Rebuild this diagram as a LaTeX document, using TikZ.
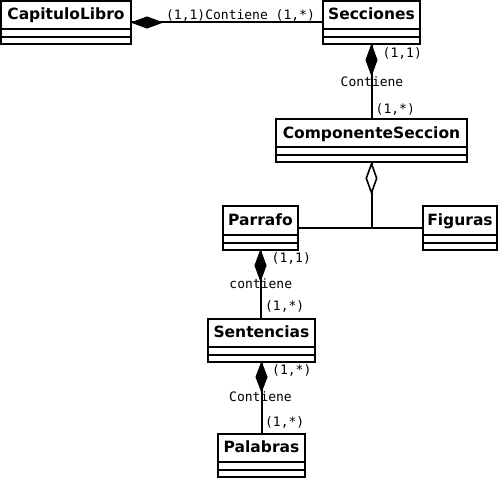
\documentclass[tikz,border=0pt]{standalone}
\usepackage{fontspec}
\newfontfamily\clsfont{DejaVu Sans}
\newfontfamily\lblfont{DejaVu Sans Mono}
\begin{document}
\begin{tikzpicture}[x=1pt,y=-1pt,
  cls/.style={draw, line width=2pt, minimum width=#1, minimum height=43pt,
    anchor=north west, inner sep=0pt},
  clsname/.style={anchor=base, inner sep=0pt, font=\clsfont\bfseries\fontsize{15.5}{18}\selectfont},
  lbl/.style={inner sep=0pt, anchor=center, font=\lblfont\fontsize{13}{15}\selectfont},
  conn/.style={line width=2pt},
  fdia/.style={fill=black, draw=black, line width=1pt, line join=miter},
  odia/.style={fill=white, draw=black, line width=1.6pt, line join=miter}]
\useasboundingbox (0,0) rectangle (500,478);

% class boxes
\node[cls=130pt] (cap)  at (0,0) {};
\node[cls=97pt]  (sec)  at (322,0) {};
\node[cls=191pt] (comp) at (275,118) {};
\node[cls=75pt]  (par)  at (222,205.5) {};
\node[cls=74pt]  (fig)  at (422,205.5) {};
\node[cls=107pt] (sent) at (207,317.5) {};
\node[cls=87pt]  (pal)  at (217,432.5) {};

% compartments
\foreach \b in {cap,sec,comp,par,fig,sent,pal}{
  \draw[line width=2pt] ([yshift=-29.5pt]\b.north west) -- ([yshift=-29.5pt]\b.north east);
  \draw[line width=2pt] ([yshift=-37pt]\b.north west) -- ([yshift=-37pt]\b.north east);
}

% class names
\path (cap.north)  ++(0,20) node[clsname] (capn)  {CapituloLibro};
\path (sec.north)  ++(0,20) node[clsname] (secn)  {Secciones};
\path (comp.north) ++(0,20.3) node[clsname] (compn) {ComponenteSeccion};
\path (par.north)  ++(0,20.3) node[clsname] (parn)  {Parrafo};
\path (fig.north)  ++(0,20.3) node[clsname] (fign)  {Figuras};
\path (sent.north) ++(0,20.3) node[clsname] (sentn) {Sentencias};
\path (pal.north)  ++(0,20.3) node[clsname] (paln)  {Palabras};

% connectors
\draw[conn] (cap.east) -- (sec.west);
\draw[fdia] (cap.east) -- ++(15,-5.5) -- ++(15,5.5) -- ++(-15,5.5) -- cycle;

\draw[conn] (sec.south) -- (comp.north);
\draw[fdia] (sec.south) -- ++(5.5,15) -- ++(-5.5,15) -- ++(-5.5,-15) -- cycle;

\coordinate (j) at (comp.south |- par.east);
\draw[conn] (comp.south) -- (j);
\draw[conn] (par.east) -- (fig.west);
\draw[odia] ([yshift=-0.8pt]comp.south) -- ++(5.2,14.5) -- ++(-5.2,14.5) -- ++(-5.2,-14.5) -- cycle;

\draw[conn] (par.south) -- (par.south |- sent.north);
\draw[fdia] (par.south) -- ++(5.5,15) -- ++(-5.5,15) -- ++(-5.5,-15) -- cycle;

\draw[conn] (sent.south) -- (pal.north);
\draw[fdia] (sent.south) -- ++(5.5,14.5) -- ++(-5.5,14.5) -- ++(-5.5,-14.5) -- cycle;

% labels
\node[lbl] (l1) at (240.5,15.3) {(1,1)Contiene (1,*)};
\node[lbl] (l2) at (402.3,53.3) {(1,1)};
\node[lbl] (l3) at (372,81.3) {Contiene};
\node[lbl] (l4) at (395.3,109) {(1,*)};
\node[lbl] (l5) at (291.3,258.3) {(1,1)};
\node[lbl] (l6) at (260.8,283.5) {contiene};
\node[lbl] (l7) at (284.7,306.7) {(1,*)};
\node[lbl] (l8) at (291.8,370) {(1,*)};
\node[lbl] (l9) at (260.5,397) {Contiene};
\node[lbl] (l10) at (284.7,422.7) {(1,*)};
\end{tikzpicture}
\end{document}
